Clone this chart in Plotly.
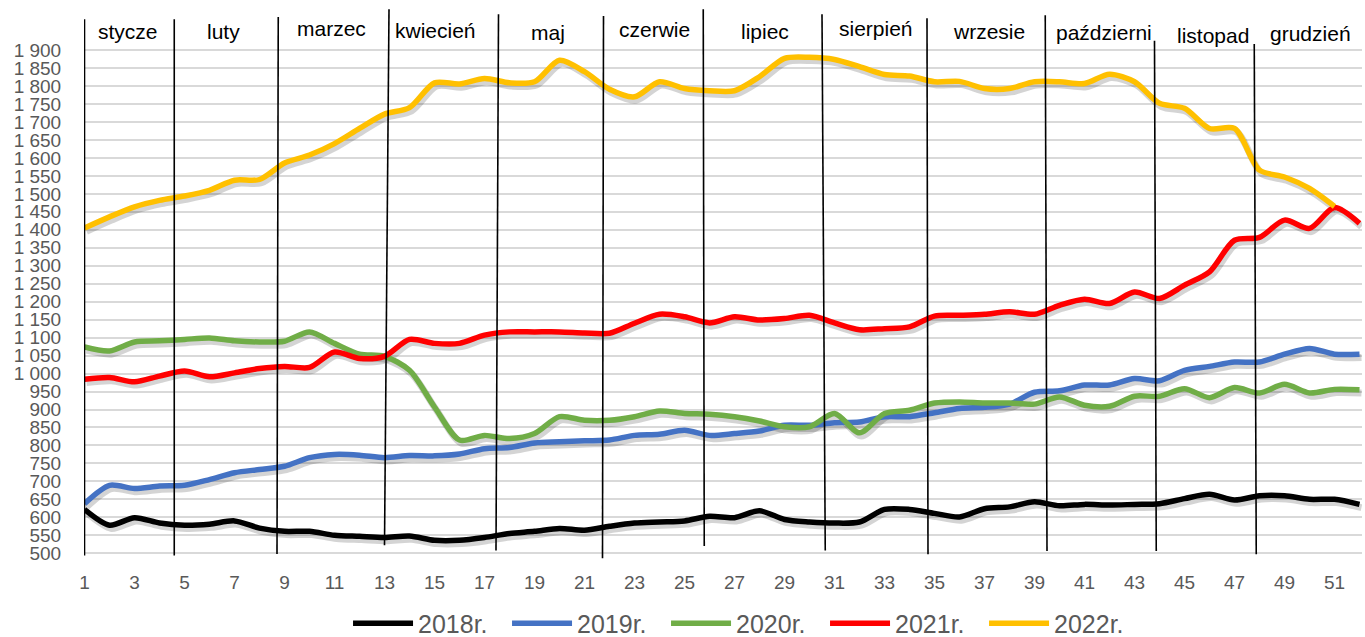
import plotly.graph_objects as go

weeks = list(range(1, 53))

y2018 = [622, 578, 599, 584, 578, 581, 590, 570, 561, 561, 550, 547, 544, 548, 536, 536,
         544, 555, 561, 569, 564, 575, 584, 587, 590, 603, 599, 618, 594, 587, 584, 587,
         622, 622, 611, 601, 624, 629, 643, 632, 636, 634, 636, 638, 652, 664, 648, 660,
         660, 650, 650, 636]
y2019 = [638, 689, 680, 687, 689, 705, 724, 733, 742, 766, 775, 773, 766, 772, 771, 776,
         791, 794, 807, 810, 813, 815, 828, 831, 842, 828, 833, 840, 856, 856, 863, 865,
         880, 880, 891, 903, 906, 915, 948, 952, 968, 968, 986, 980, 1009, 1020, 1032, 1032,
         1054, 1070, 1054, 1054]
y2020 = [1074, 1063, 1088, 1091, 1095, 1099, 1091, 1088, 1090, 1116, 1084, 1054, 1048, 1009, 907, 815,
         828, 819, 833, 880, 870, 870, 880, 896, 889, 887, 880, 868, 852, 852, 889, 835,
         889, 898, 918, 921, 918, 918, 915, 935, 912, 909, 937, 937, 958, 933, 961, 946,
         970, 946, 956, 955]
y2021 = [984, 989, 977, 993, 1007, 991, 1002, 1014, 1020, 1017, 1060, 1042, 1048, 1095, 1084, 1084,
         1107, 1116, 1116, 1116, 1113, 1112, 1140, 1165, 1158, 1141, 1158, 1149, 1153, 1162, 1141, 1122,
         1125, 1130, 1160, 1162, 1165, 1172, 1165, 1190, 1207, 1195, 1227, 1209, 1246, 1283, 1371, 1379,
         1427, 1404, 1462, 1418]
y2022 = [1405, 1436, 1464, 1482, 1494, 1510, 1538, 1540, 1586, 1608, 1640, 1682, 1722, 1740, 1809, 1806,
         1821, 1809, 1812, 1872, 1840, 1791, 1770, 1812, 1793, 1787, 1787, 1826, 1877, 1880, 1874, 1854,
         1832, 1828, 1812, 1813, 1793, 1793, 1812, 1812, 1807, 1833, 1812, 1752, 1738, 1682, 1682, 1566,
         1547, 1515, 1465, None]

series_names = ["2018r.", "2019r.", "2020r.", "2021r.", "2022r."]
series_values = [y2018, y2019, y2020, y2021, y2022]
series_colors = ["#000000", "#4472C4", "#70AD47", "#FF0000", "#FFC000"]

month_names = ["stycze", "luty", "marzec", "kwiecień", "maj", "czerwie", "lipiec",
               "sierpień", "wrzesie", "październi", "listopad", "grudzień"]
month_label_x = [2.73, 6.55, 10.87, 15.03, 19.55, 23.78, 28.23, 32.65, 37.19, 41.78, 46.15, 50.05]
month_label_y = [1953, 1953, 1961, 1956, 1950, 1958, 1953, 1961, 1953, 1950, 1942, 1947]

divider_x_top = [1.0, 4.59, 8.75, 13.18, 17.56, 21.76, 25.75, 30.5, 34.7, 39.43, 43.8, 47.79]
divider_x_bot = [1.0, 4.59, 8.70, 13.0, 17.46, 21.72, 25.79, 30.63, 34.74, 39.5, 43.87, 47.87]
divider_y_top = [1986, 1986, 1992, 2014, 2000, 1995, 2014, 2000, 1989, 1997, 1926, 1917]
divider_y_bot = [494, 494, 498, 522, 508, 486, 520, 508, 497, 506, 506, 497]

x_tick_vals = list(range(1, 53, 2))
y_tick_vals = list(range(500, 1901, 50))
y_tick_text = ["500", "550", "600", "650", "700", "750", "800", "850", "900", "950",
               "1 000", "1 050", "1 100", "1 150", "1 200", "1 250", "1 300", "1 350",
               "1 400", "1 450", "1 500", "1 550", "1 600", "1 650", "1 700", "1 750",
               "1 800", "1 850", "1 900"]

FONT = "Liberation Sans, Arial, sans-serif"
GRAY = "#595959"

fig = go.Figure()

# soft shadows (Excel-like), drawn under the lines
for vals in series_values:
    fig.add_trace(go.Scatter(
        x=[w + 0.08 for w in weeks],
        y=[None if v is None else v - 9 for v in vals],
        mode="lines", line=dict(color="rgba(0,0,0,0.17)", width=7, shape="spline", smoothing=0.8),
        hoverinfo="skip", showlegend=False))

for name, vals, col in zip(series_names, series_values, series_colors):
    fig.add_trace(go.Scatter(
        x=weeks, y=vals, name=name, mode="lines",
        line=dict(color=col, width=5.5, shape="spline", smoothing=0.8)))

for xt, xb, yt, yb in zip(divider_x_top, divider_x_bot, divider_y_top, divider_y_bot):
    fig.add_shape(type="line", xref="x", yref="y", x0=xb, y0=yb, x1=xt, y1=yt,
                  line=dict(color="#000000", width=1.6), layer="above")

for name, mx, my in zip(month_names, month_label_x, month_label_y):
    fig.add_annotation(x=mx, y=my, xref="x", yref="y", text=name, showarrow=False,
                       font=dict(family=FONT, size=21, color="#000000"),
                       xanchor="center", yanchor="middle")

fig.update_layout(
    width=1365, height=637,
    margin=dict(l=84, r=3, t=7, b=78, pad=0),
    paper_bgcolor="white", plot_bgcolor="white",
    font=dict(family=FONT, color=GRAY),
    showlegend=True,
    legend=dict(orientation="h", x=0.2066, xanchor="left",
                yref="container", y=0.021, yanchor="middle",
                font=dict(family=FONT, size=25, color=GRAY),
                itemwidth=60, entrywidth=84, entrywidthmode="pixels",
                bgcolor="rgba(0,0,0,0)"),
    xaxis=dict(range=[0.98, 52.1], tickvals=x_tick_vals, showgrid=False, zeroline=False,
               showline=False, ticks="outside", ticklen=6, tickcolor="rgba(0,0,0,0)",
               tickfont=dict(family=FONT, size=19, color=GRAY)),
    yaxis=dict(range=[484, 2020], tickvals=y_tick_vals, ticktext=y_tick_text,
               showgrid=True, gridcolor="#D9D9D9", gridwidth=1.5, zeroline=False,
               showline=False, ticks="outside", ticklen=18, tickcolor="rgba(0,0,0,0)",
               tickfont=dict(family=FONT, size=19, color=GRAY)),
)

fig.write_html("out.html", config={"displayModeBar": False},
               post_script="document.body.style.margin='0';document.body.style.overflow='hidden';")
